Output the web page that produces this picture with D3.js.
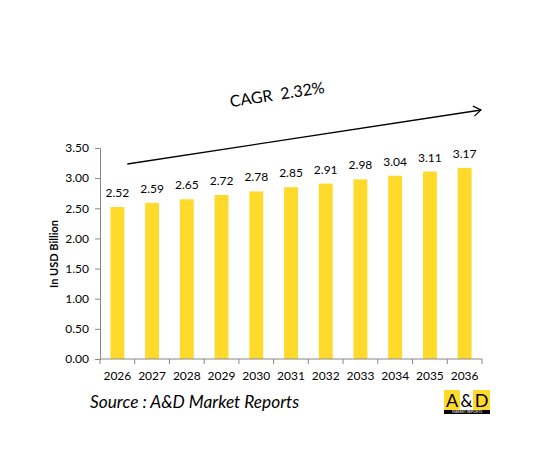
<!DOCTYPE html>
<html><head><meta charset="utf-8">
<script src="https://cdn.jsdelivr.net/npm/d3@7"></script>
<style>body{margin:0;background:#fff}svg{display:block}text{font-family:Lato,"Open Sans",sans-serif}</style>
</head><body>
<svg id="c" width="553" height="463"></svg>
<script>
const years = ["2026","2027","2028","2029","2030","2031","2032","2033","2034","2035","2036"];
const values = [2.52,2.59,2.65,2.72,2.78,2.85,2.91,2.98,3.04,3.11,3.17];
const yTicks = [0,0.5,1,1.5,2,2.5,3,3.5];
const cagrLabel = "CAGR  2.32%";
const yTitle = "In USD Billion";
const sourceText = "Source : A&D Market Reports";

const svg = d3.select("#c");
const x = d3.scaleBand().domain(years).range([100, 482]).paddingInner(0.6).paddingOuter(0.3);
const y = d3.scaleLinear().domain([0, 3.5]).range([359, 148]);

// y axis
const ya = svg.append("g").attr("transform","translate(100,0)")
  .call(d3.axisLeft(y).tickValues(yTicks).tickFormat(d3.format(".2f")).tickSize(5).tickPadding(6));
ya.select(".domain").attr("stroke","#888");
ya.selectAll(".tick line").attr("stroke","#888");
ya.selectAll("text").attr("font-size",12).attr("fill","#000");

// bars
svg.append("g").selectAll("rect").data(values).join("rect")
  .attr("x",(d,i)=>x(years[i]))
  .attr("width",x.bandwidth())
  .attr("y",d=>y(d))
  .attr("height",d=>y(0)-y(d))
  .attr("fill","#FFDA2A");

// value labels
svg.append("g").selectAll("text").data(values).join("text")
  .attr("x",(d,i)=>x(years[i])+x.bandwidth()/2)
  .attr("y",d=>y(d)-10)
  .attr("text-anchor","middle").attr("font-size",12).attr("fill","#000")
  .text(d=>d.toFixed(2));

// x axis
const xa = svg.append("g").attr("transform","translate(0,359)");
xa.append("line").attr("x1",100).attr("x2",482).attr("stroke","#888");
const bw = (482-100)/years.length;
const bounds = d3.range(years.length+1).map(i=>100 + i*bw);
xa.selectAll("line.t").data(bounds).join("line").attr("class","t")
  .attr("x1",d=>d).attr("x2",d=>d).attr("y1",0).attr("y2",5).attr("stroke","#888");
xa.selectAll("text").data(years).join("text")
  .attr("x",d=>x(d)+x.bandwidth()/2).attr("y",21)
  .attr("text-anchor","middle").attr("font-size",12).attr("fill","#000").text(d=>d);

// y title
svg.append("text").attr("transform","translate(58,254) rotate(-90)")
  .attr("text-anchor","middle").attr("font-size",11).attr("font-weight","bold").text(yTitle);

// CAGR arrow
const ax1 = x(years[0]) + x.bandwidth()/2 + 10, ay1 = 164, ax2 = 481, ay2 = 110;
svg.append("line").attr("x1",ax1).attr("y1",ay1).attr("x2",ax2).attr("y2",ay2)
  .attr("stroke","#000").attr("stroke-width",1.3);
const ang = Math.atan2(ay2-ay1, ax2-ax1);
const L = 9, spread = 0.6;
svg.append("path")
  .attr("d",`M${ax2-L*Math.cos(ang-spread)},${ay2-L*Math.sin(ang-spread)} L${ax2},${ay2} L${ax2-L*Math.cos(ang+spread)},${ay2-L*Math.sin(ang+spread)}`)
  .attr("fill","none").attr("stroke","#000").attr("stroke-width",1.2);
svg.append("text").attr("transform",`translate(278,100) rotate(${ang*180/Math.PI})`)
  .attr("text-anchor","middle").attr("font-size",16).attr("fill","#000")
  .style("white-space","pre").text(cagrLabel);

// source
svg.append("text").attr("x",90).attr("y",408).attr("font-size",17.3).attr("font-style","italic").text(sourceText);

// logo
const lg = svg.append("g").attr("transform","translate(444,390)");
lg.append("rect").attr("width",46).attr("height",24).attr("fill","#000");
lg.append("rect").attr("width",16).attr("height",20).attr("fill","#FFDA2A");
lg.append("rect").attr("x",16).attr("width",13).attr("height",20).attr("fill","#fff");
lg.append("rect").attr("x",29).attr("width",17).attr("height",20).attr("fill","#FFDA2A");
lg.append("text").attr("x",8).attr("y",17).attr("text-anchor","middle").attr("font-size",18).attr("font-family","Liberation Sans, Arial").text("A");
lg.append("text").attr("x",22.5).attr("y",17).attr("text-anchor","middle").attr("font-size",17).attr("font-family","Liberation Sans, Arial").text("&");
lg.append("text").attr("x",37.5).attr("y",17).attr("text-anchor","middle").attr("font-size",18).attr("font-family","Liberation Sans, Arial").text("D");
lg.append("text").attr("x",23).attr("y",23.2).attr("text-anchor","middle").attr("font-size",3.5).attr("fill","#fff").attr("font-family","Liberation Sans, Arial").text("MARKET REPORTS");
</script>
</body></html>
